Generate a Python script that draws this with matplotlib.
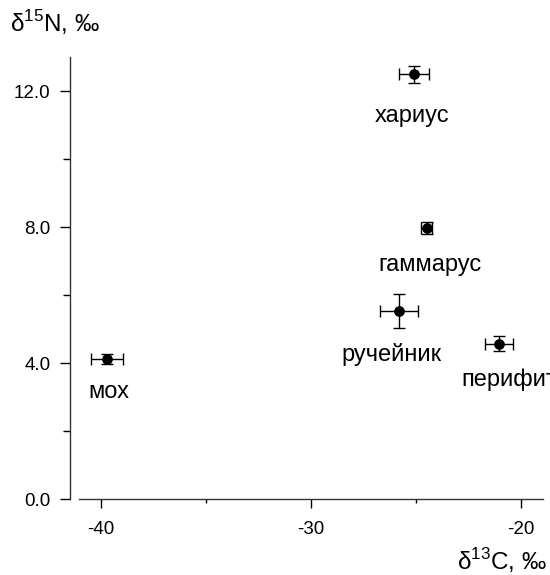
import matplotlib
matplotlib.use("Agg")
import matplotlib.pyplot as plt
from matplotlib.ticker import MultipleLocator

plt.rcParams['font.family'] = ['Liberation Sans', 'DejaVu Sans']
plt.rcParams['mathtext.fontset'] = 'custom'
plt.rcParams['mathtext.rm'] = 'Liberation Sans'

# isotope means and errors (per mille)
names = ["мох", "хариус", "гаммарус", "ручейник", "перифитон"]
d13c = [-39.7, -25.1, -24.5, -25.8, -21.05]
d15n = [4.12, 12.5, 7.97, 5.53, 4.56]
d13c_err = [0.76, 0.71, 0.27, 0.9, 0.66]
d15n_err = [0.15, 0.25, 0.18, 0.51, 0.22]
# label offsets in pixels (dx, dy) relative to each point
label_dx = [1, -2, 3, -8, -38]
label_dy = [-33, -42, -37, -44, -36]
label_ha = ["center", "center", "center", "center", "left"]

fig = plt.figure(figsize=(5.5, 5.75), dpi=100)
ax = fig.add_axes([70 / 550, 1 - 499 / 575, 480 / 550, 441 / 575])

ax.errorbar(d13c, d15n, xerr=d13c_err, yerr=d15n_err, fmt="o", color="black",
            ms=6.7, elinewidth=1, capsize=4.5, capthick=1)

for i in range(len(names)):
    ax.annotate(names[i], (d13c[i], d15n[i]), xytext=(label_dx[i], label_dy[i]),
                textcoords="offset pixels", ha=label_ha[i], va="center",
                fontsize=17, annotation_clip=False)

ax.set_xlim(-41.48, -41.48 + 480 / 21)
ax.set_ylim(0, 441 / 34)
ax.spines["top"].set_visible(False)
ax.spines["right"].set_visible(False)
ax.spines["bottom"].set_bounds(-41.05, -18.95)
ax.spines["left"].set_bounds(0, 13)
for s in ("bottom", "left"):
    ax.spines[s].set_linewidth(1)
    ax.spines[s].set_color("#333333")

ax.xaxis.set_major_locator(MultipleLocator(10))
ax.xaxis.set_minor_locator(MultipleLocator(5))
ax.yaxis.set_major_locator(MultipleLocator(4))
ax.yaxis.set_minor_locator(MultipleLocator(2))
ax.yaxis.set_major_formatter(lambda v, p: f"{v:.1f}")
ax.xaxis.set_major_formatter(lambda v, p: f"{v:.0f}")
ax.tick_params(axis="x", which="major", direction="out", length=6.5, width=1,
               labelsize=13.5, pad=9)
ax.tick_params(axis="y", which="major", direction="out", length=7.2, width=1,
               labelsize=13.5, pad=7)
ax.tick_params(axis="x", which="minor", direction="out", length=3, width=1)
ax.tick_params(axis="y", which="minor", direction="out", length=5, width=1)

fig.text(10 / 550, 1 - 23 / 575, "δ$^{15}$N, ‰", fontsize=17.5, va="center", ha="left")
fig.text(547 / 550, 1 - 561 / 575, "δ$^{13}$C, ‰", fontsize=17.5, va="center", ha="right")

fig.savefig("out.png", dpi=100)
